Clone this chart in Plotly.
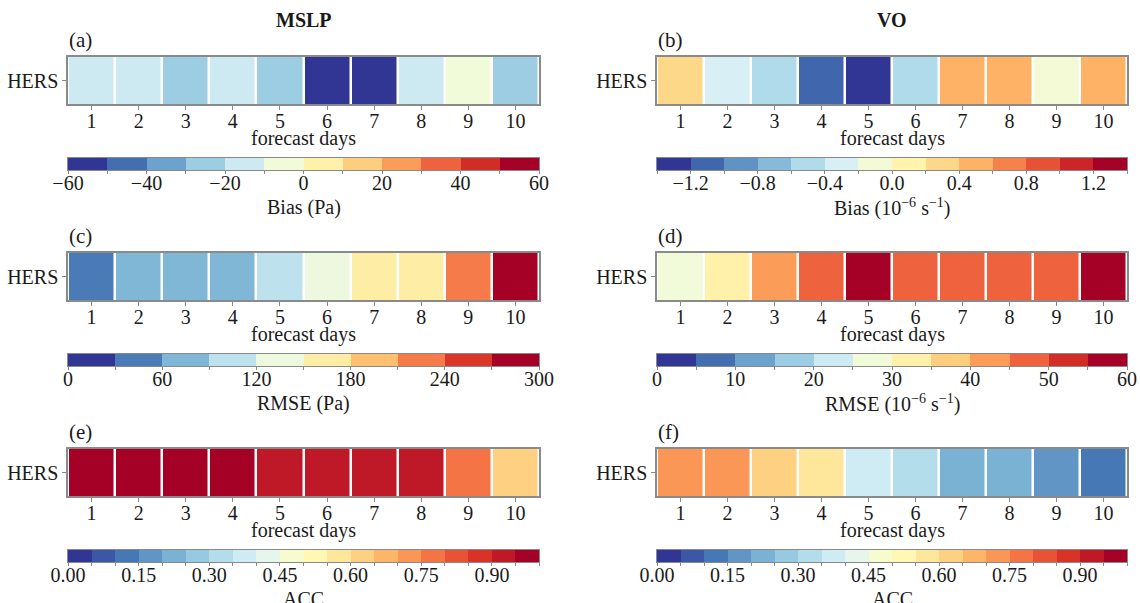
import plotly.graph_objects as go

# ---------------- data ----------------
days = [1, 2, 3, 4, 5, 6, 7, 8, 9, 10]
model = ["HERS"]

mslp_bias = [-15, -14, -25, -13, -22, -55, -56, -12, -5, -24]
vo_bias = [0.3, -0.3, -0.5, -1.1, -1.3, -0.45, 0.5, 0.5, -0.1, 0.5]
mslp_rmse = [45, 75, 78, 82, 105, 135, 165, 170, 225, 285]
vo_rmse = [28, 33, 42, 47, 57, 47, 48, 47, 48, 57]
mslp_acc = [0.97, 0.97, 0.97, 0.97, 0.93, 0.93, 0.92, 0.92, 0.77, 0.62]
vo_acc = [0.72, 0.72, 0.63, 0.57, 0.38, 0.33, 0.22, 0.22, 0.17, 0.12]

# colour-bar levels (min, max, number of bins) and tick labels
mslp_bias_levels = (-60, 60, 12)
vo_bias_levels = (-1.4, 1.4, 14)
mslp_rmse_levels = (0, 300, 10)
vo_rmse_levels = (0, 60, 12)
acc_levels = (0.0, 1.0, 20)

mslp_bias_ticks = [-60, -40, -20, 0, 20, 40, 60]
mslp_bias_ticktext = ["\u221260", "\u221240", "\u221220", "0", "20", "40", "60"]
vo_bias_ticks = [-1.2, -0.8, -0.4, 0.0, 0.4, 0.8, 1.2]
vo_bias_ticktext = ["\u22121.2", "\u22120.8", "\u22120.4", "0.0", "0.4", "0.8", "1.2"]
mslp_rmse_ticks = [0, 60, 120, 180, 240, 300]
mslp_rmse_ticktext = ["0", "60", "120", "180", "240", "300"]
vo_rmse_ticks = [0, 10, 20, 30, 40, 50, 60]
vo_rmse_ticktext = ["0", "10", "20", "30", "40", "50", "60"]
acc_ticks = [0.0, 0.15, 0.30, 0.45, 0.60, 0.75, 0.90]
acc_ticktext = ["0.00", "0.15", "0.30", "0.45", "0.60", "0.75", "0.90"]

column_titles = ["MSLP", "VO"]
panel_letters = ["(a)", "(b)", "(c)", "(d)", "(e)", "(f)"]
cbar_titles = ["Bias (Pa)", "Bias (10<sup>\u22126</sup> s<sup>\u22121</sup>)",
               "RMSE (Pa)", "RMSE (10<sup>\u22126</sup> s<sup>\u22121</sup>)",
               "ACC", "ACC"]
xlabel = "forecast days"

# ---------------- colours ----------------
ANCHORS = ['#313695', '#4575b4', '#74add1', '#abd9e9', '#e0f3f8', '#ffffbf',
           '#fee090', '#fdae61', '#f46d43', '#d73027', '#a50026']


def hex2rgb(h):
    h = h.lstrip('#')
    return [int(h[i:i + 2], 16) for i in (0, 2, 4)]


def cmap(t):
    pos = t * 10
    i = min(int(pos), 9)
    f = pos - i
    a, b = hex2rgb(ANCHORS[i]), hex2rgb(ANCHORS[i + 1])
    c = [round(a[k] + (b[k] - a[k]) * f) for k in range(3)]
    return f"rgb({c[0]},{c[1]},{c[2]})"


def discrete_scale(n):
    sc = []
    for k in range(n):
        c = cmap(k / (n - 1))
        sc.append([k / n, c])
        sc.append([(k + 1) / n, c])
    return sc


# ---------------- layout geometry (pixels) ----------------
W, H = 1140, 603
col_x = [(68, 539), (657, 1127)]
row_top = [57, 253, 449]
hm_h = 47
cb_off = 101    # heatmap top -> colour bar top
cb_h = 12

FONT = "Liberation Serif"
FS = 20
TXT = "#1a1a1a"
EDGE = "#8a8a8a"

panels = [
    (mslp_bias, mslp_bias_levels, mslp_bias_ticks, mslp_bias_ticktext),
    (vo_bias, vo_bias_levels, vo_bias_ticks, vo_bias_ticktext),
    (mslp_rmse, mslp_rmse_levels, mslp_rmse_ticks, mslp_rmse_ticktext),
    (vo_rmse, vo_rmse_levels, vo_rmse_ticks, vo_rmse_ticktext),
    (mslp_acc, acc_levels, acc_ticks, acc_ticktext),
    (vo_acc, acc_levels, acc_ticks, acc_ticktext),
]

fig = go.Figure()
annotations = []
axes = {}


def ax_names(n):
    return ("x" if n == 1 else f"x{n}", "y" if n == 1 else f"y{n}",
            "xaxis" if n == 1 else f"xaxis{n}", "yaxis" if n == 1 else f"yaxis{n}")


for idx, (vals, (lo, hi, nb), tv, tt) in enumerate(panels):
    r, c = divmod(idx, 2)
    x0, x1 = col_x[c]
    top = row_top[r]
    bot = top + hm_h
    cbt = top + cb_off
    cbb = cbt + cb_h
    scale = discrete_scale(nb)

    # ---- main heatmap ----
    xa, ya, xk, yk = ax_names(2 * idx + 1)
    fig.add_trace(go.Heatmap(
        z=[vals], x=days, y=model, xaxis=xa, yaxis=ya,
        zmin=lo, zmax=hi, colorscale=scale, showscale=False,
        xgap=2.5, hoverinfo="skip"))
    axes[xk] = dict(
        domain=[x0 / W, x1 / W], anchor=ya, automargin=False,
        range=[0.5, 10.5], tickmode="array", tickvals=days,
        ticks="outside", ticklen=4, tickcolor=EDGE, ticklabelstandoff=-6,
        showline=True, mirror=True, linecolor=EDGE, linewidth=1.5,
        showgrid=False, zeroline=False, fixedrange=True,
        tickfont=dict(family=FONT, size=FS, color=TXT))
    axes[yk] = dict(
        domain=[1 - bot / H, 1 - top / H], anchor=xa, automargin=False,
        ticks="outside", ticklen=4, tickcolor=EDGE,
        showline=True, mirror=True, linecolor=EDGE, linewidth=1.5,
        showgrid=False, zeroline=False, fixedrange=True,
        tickfont=dict(family=FONT, size=FS, color=TXT))

    # ---- colour bar drawn as a one-row heatmap of the bins ----
    step = (hi - lo) / nb
    mids = [lo + (k + 0.5) * step for k in range(nb)]
    edges = [lo + k * step for k in range(nb + 1)]
    etext = []
    for e in edges:
        lab = ""
        for v, t in zip(tv, tt):
            if abs(v - e) < step * 1e-3:
                lab = t
        etext.append(lab)
    cxa, cya, cxk, cyk = ax_names(2 * idx + 2)
    fig.add_trace(go.Heatmap(
        z=[mids], x=mids, y=[0], xaxis=cxa, yaxis=cya,
        zmin=lo, zmax=hi, colorscale=scale, showscale=False,
        hoverinfo="skip"))
    axes[cxk] = dict(
        domain=[x0 / W, x1 / W], anchor=cya, automargin=False,
        range=[lo, hi], tickmode="array", tickvals=edges, ticktext=etext,
        ticks="outside", ticklen=3, tickcolor=EDGE, ticklabelstandoff=-8,
        showline=True, mirror=True, linecolor=EDGE, linewidth=1,
        showgrid=False, zeroline=False, fixedrange=True,
        tickfont=dict(family=FONT, size=FS, color=TXT))
    axes[cyk] = dict(
        domain=[1 - cbb / H, 1 - cbt / H], anchor=cxa, automargin=False,
        showticklabels=False, ticks="", showline=True, mirror=True,
        linecolor=EDGE, linewidth=1, showgrid=False, zeroline=False,
        fixedrange=True, range=[-0.5, 0.5])

    # ---- texts ----
    annotations.append(dict(
        text=panel_letters[idx], x=x0 / W - 0.001, y=1 - (top - 3) / H,
        xref="paper", yref="paper", xanchor="left", yanchor="bottom",
        showarrow=False, font=dict(family=FONT, size=21, color=TXT)))
    annotations.append(dict(
        text=xlabel, x=(x0 + x1) / 2 / W, y=1 - (top + 81) / H,
        xref="paper", yref="paper", xanchor="center", yanchor="middle",
        showarrow=False, font=dict(family=FONT, size=FS, color=TXT)))
    annotations.append(dict(
        text=cbar_titles[idx], x=(x0 + x1) / 2 / W, y=1 - (cbt + 49) / H,
        xref="paper", yref="paper", xanchor="center", yanchor="middle",
        showarrow=False, font=dict(family=FONT, size=FS, color=TXT)))

for c, t in enumerate(column_titles):
    x0, x1 = col_x[c]
    annotations.append(dict(
        text=f"<b>{t}</b>", x=(x0 + x1) / 2 / W, y=1 - 20 / H,
        xref="paper", yref="paper", xanchor="center", yanchor="middle",
        showarrow=False, font=dict(family=FONT, size=FS, color=TXT)))

fig.update_layout(
    width=W, height=H,
    margin=dict(l=0, r=0, t=0, b=0, autoexpand=False),
    paper_bgcolor="white", plot_bgcolor="white",
    font=dict(family=FONT, size=FS, color=TXT),
    annotations=annotations,
    **axes,
)

fig.write_html("out.html")
